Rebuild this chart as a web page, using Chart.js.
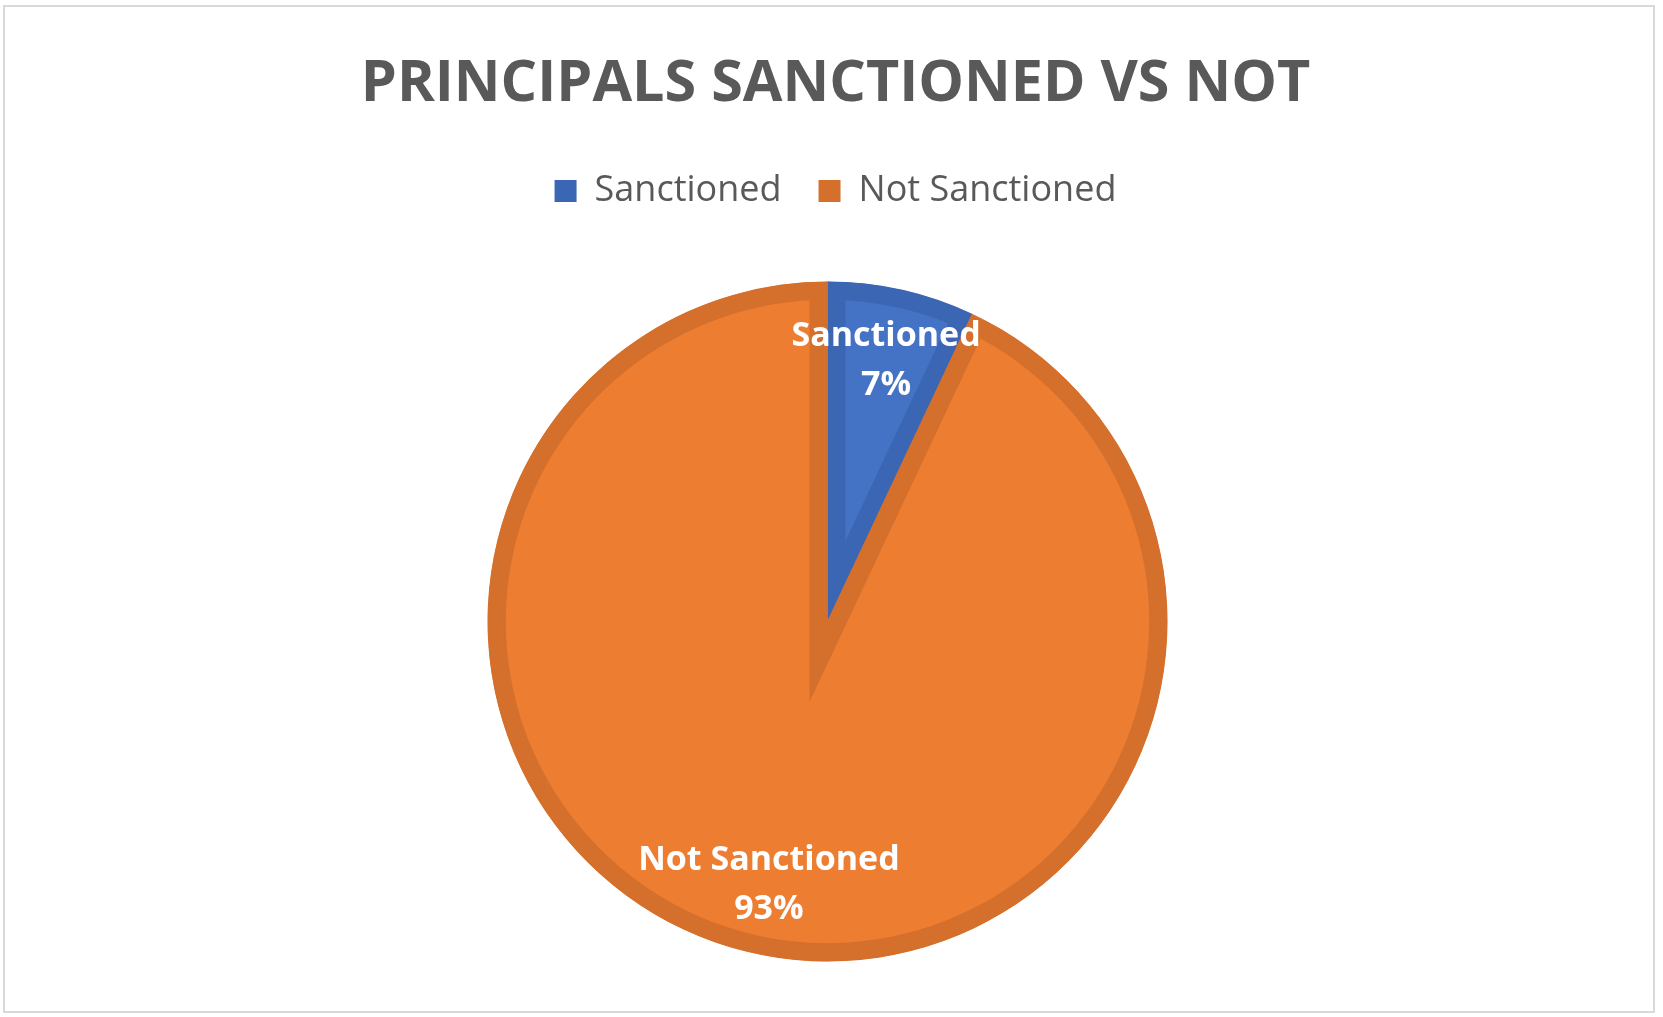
<!DOCTYPE html>
<html>
<head>
<meta charset="utf-8">
<title>Principals Sanctioned vs Not</title>
<script src="https://cdn.jsdelivr.net/npm/chart.js@4.4.1/dist/chart.umd.min.js"></script>
<style>
  html, body { margin: 0; padding: 0; overflow: hidden; background: #ffffff; }
  #wrap { position: relative; width: 1663px; height: 1040px; }
  #frame { position: absolute; left: 3px; top: 5px; width: 1648px; height: 1004px; border: 2px solid #d9d9d9; pointer-events: none; }
</style>
</head>
<body>
<div id="wrap">
  <canvas id="pieChart" width="1663" height="1040"></canvas>
  <div id="frame"></div>
</div>
<script>
const categories = ["Sanctioned", "Not Sanctioned"];
const values = [7, 93];
const fillColors = ["#4472c4", "#ed7d31"];
const edgeColors = ["#3a66b4", "#d5702c"];

const total = values.reduce((a, b) => a + b, 0);
const percentLabels = values.map((v) => Math.round((v / total) * 100) + "%");

// pie sits a little left of the title/legend centre; labels drawn in the same shifted space
const sliceLabels = {
  id: "sliceLabels",
  beforeDatasetsDraw(chart) {
    chart.ctx.save();
    chart.ctx.translate(-8, 0);
  },
  afterDatasetsDraw(chart) {
    const ctx = chart.ctx;
    const meta = chart.getDatasetMeta(0);
    ctx.fillStyle = "#ffffff";
    ctx.font = "bold 34px 'Open Sans'";
    ctx.textAlign = "center";
    ctx.textBaseline = "middle";
    meta.data.forEach((arc, i) => {
      const p = arc.getProps(["x", "y", "startAngle", "endAngle", "outerRadius"], true);
      const mid = (p.startAngle + p.endAngle) / 2;
      const r = p.outerRadius * 0.79;
      const x = p.x + Math.cos(mid) * r;
      const y = p.y + Math.sin(mid) * r;
      ctx.fillText(categories[i], x, y - 23);
      ctx.fillText(percentLabels[i], x, y + 26);
    });
    ctx.restore();
  },
};

new Chart(document.getElementById("pieChart"), {
  type: "pie",
  data: {
    labels: categories,
    datasets: [
      {
        data: values,
        backgroundColor: fillColors,
        borderColor: edgeColors,
        borderWidth: 18,
        borderAlign: "inner",
        borderJoinStyle: "miter",
      },
    ],
  },
  options: {
    responsive: false,
    animation: false,
    events: [],
    radius: 340,
    layout: { padding: { left: 8, right: 0, top: 0, bottom: 16 } },
    plugins: {
      title: {
        display: true,
        text: "PRINCIPALS SANCTIONED VS NOT",
        color: "#595959",
        font: { family: "'Open Sans'", size: 57.5, weight: "bold" },
        padding: { top: 50, bottom: 17 },
      },
      legend: {
        position: "top",
        labels: {
          color: "#595959",
          font: { family: "'Open Sans'", size: 36 },
          boxWidth: 22,
          boxHeight: 22,
          padding: 37,
          generateLabels: () =>
            categories.map((c, i) => ({
              text: c,
              fillStyle: edgeColors[i],
              strokeStyle: edgeColors[i],
              lineWidth: 0,
              fontColor: "#595959",
              index: i,
            })),
        },
      },
      tooltip: { enabled: false },
    },
  },
  plugins: [sliceLabels],
});
</script>
</body>
</html>
